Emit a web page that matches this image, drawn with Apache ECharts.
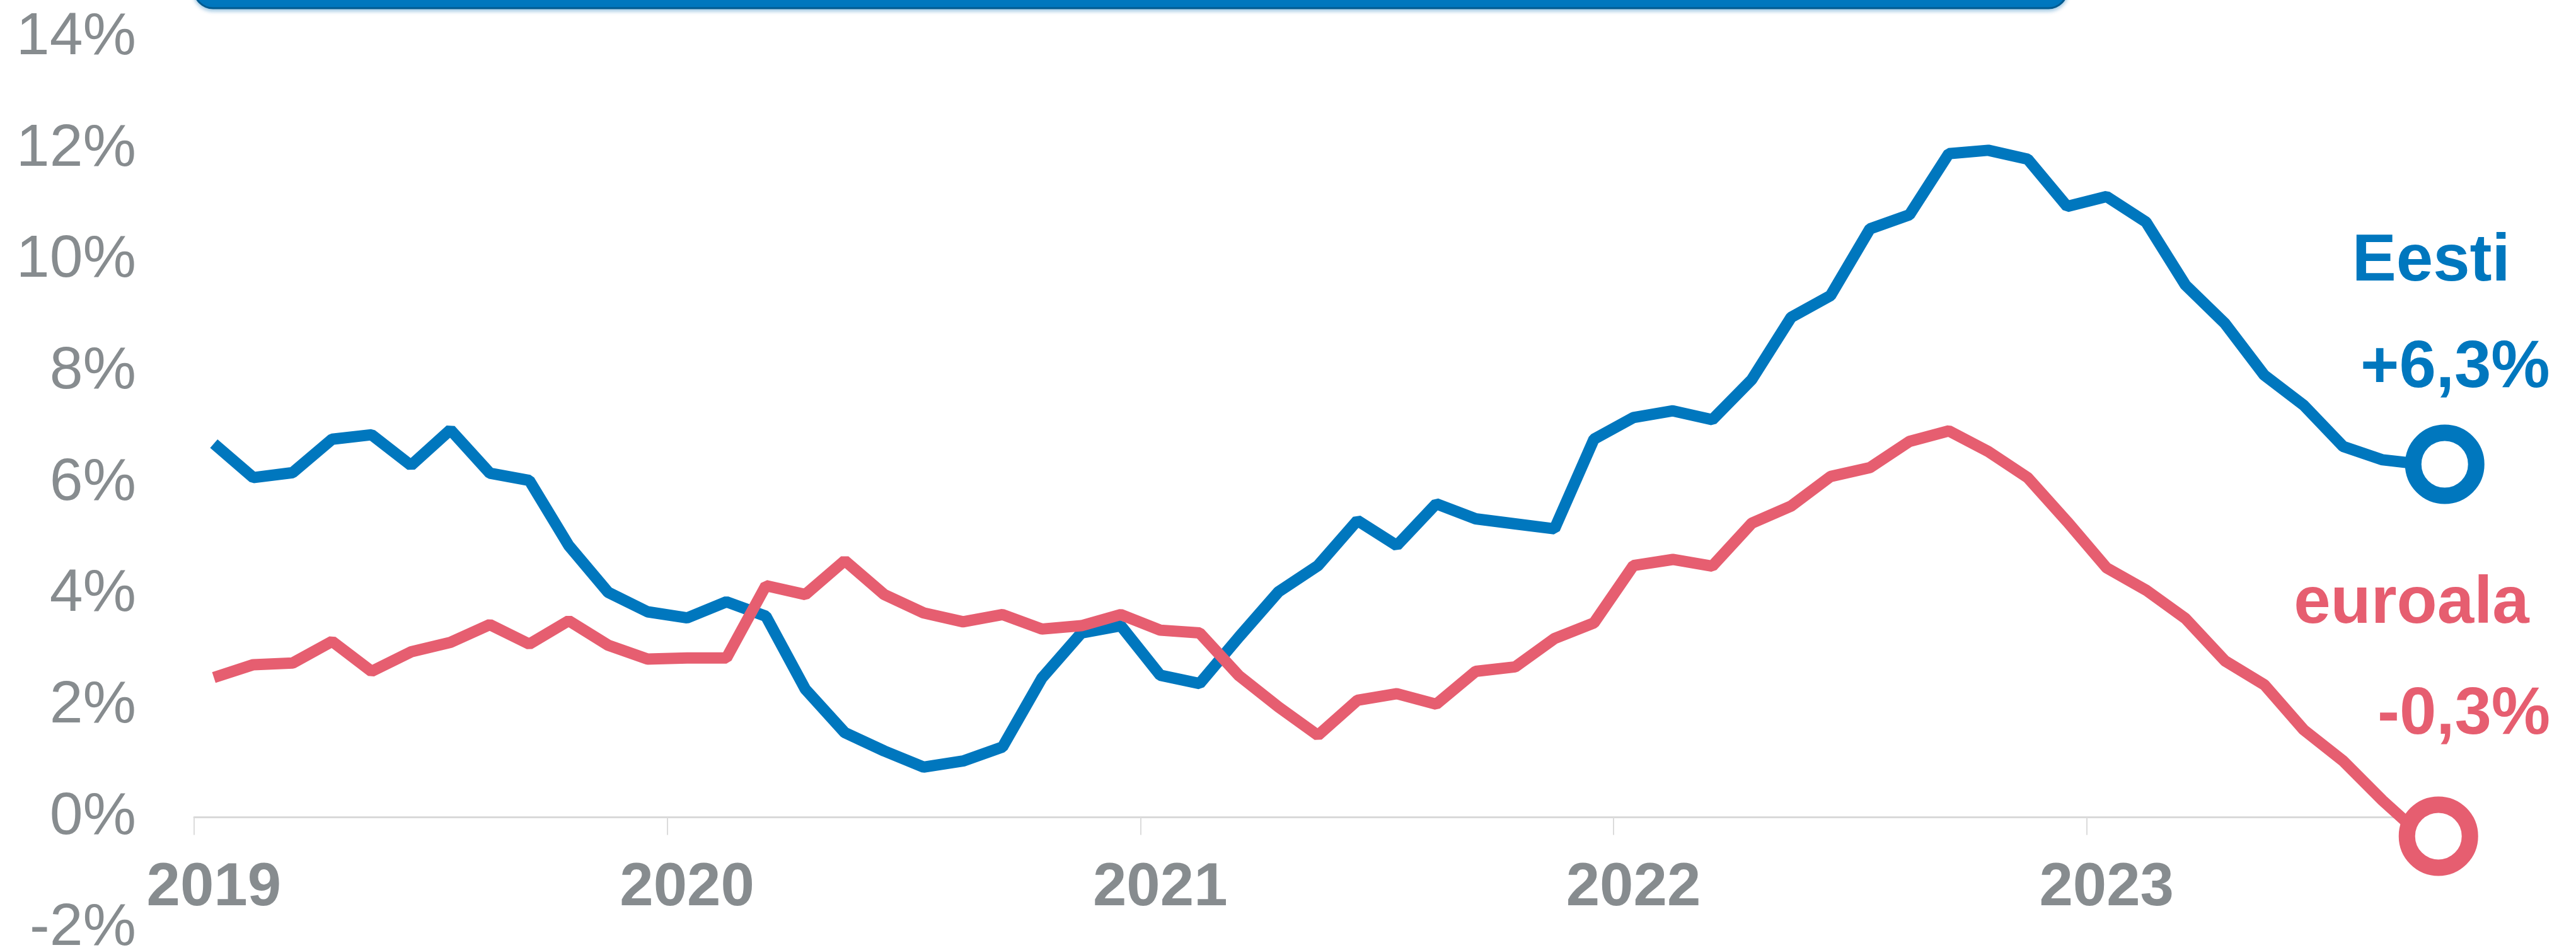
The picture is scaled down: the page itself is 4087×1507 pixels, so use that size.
<!DOCTYPE html>
<html>
<head>
<meta charset="utf-8">
<title>Eesti ja euroala</title>
<script src="https://cdn.jsdelivr.net/npm/echarts@6/dist/echarts.min.js"></script>
<style>
  html, body { margin: 0; padding: 0; background: #fff; }
  #chart { width: 4087px; height: 1507px; }
</style>
</head>
<body>
<div id="chart"></div>
<script>
// kuud 2019-01 ... 2023-09
var months = [
  "2019-01", "2019-02", "2019-03", "2019-04", "2019-05", "2019-06", "2019-07", "2019-08", "2019-09", "2019-10", "2019-11", "2019-12",
  "2020-01", "2020-02", "2020-03", "2020-04", "2020-05", "2020-06", "2020-07", "2020-08", "2020-09", "2020-10", "2020-11", "2020-12",
  "2021-01", "2021-02", "2021-03", "2021-04", "2021-05", "2021-06", "2021-07", "2021-08", "2021-09", "2021-10", "2021-11", "2021-12",
  "2022-01", "2022-02", "2022-03", "2022-04", "2022-05", "2022-06", "2022-07", "2022-08", "2022-09", "2022-10", "2022-11", "2022-12",
  "2023-01", "2023-02", "2023-03", "2023-04", "2023-05", "2023-06", "2023-07", "2023-08", "2023-09"
];

var eesti = [
  6.71, 6.10, 6.19, 6.79, 6.87, 6.32, 6.96, 6.18, 6.05, 4.88, 4.04, 3.69,
  3.58, 3.87, 3.61, 2.30, 1.52, 1.19, 0.90, 1.01, 1.26, 2.50, 3.31, 3.44,
  2.55, 2.40, 3.24, 4.05, 4.52, 5.33, 4.88, 5.63, 5.36, 5.27, 5.18, 6.79,
  7.18, 7.30, 7.14, 7.86, 8.98, 9.37, 10.57, 10.82, 11.92, 11.98, 11.82, 10.97,
  11.15, 10.69, 9.56, 8.87, 7.94, 7.40, 6.66, 6.42, 6.34
];

var euroala = [
  2.51, 2.74, 2.77, 3.16, 2.62, 2.97, 3.14, 3.46, 3.11, 3.53, 3.09, 2.84,
  2.86, 2.86, 4.16, 4.00, 4.61, 4.00, 3.67, 3.51, 3.64, 3.38, 3.44, 3.64,
  3.36, 3.31, 2.54, 1.98, 1.47, 2.10, 2.22, 2.03, 2.62, 2.70, 3.21, 3.49,
  4.52, 4.63, 4.51, 5.28, 5.59, 6.12, 6.28, 6.75, 6.94, 6.57, 6.10, 5.31,
  4.48, 4.08, 3.57, 2.81, 2.38, 1.57, 1.01, 0.30, -0.34
];

var endTexts = { eesti: "+6,3%", euroala: "-0,3%" };

var BLUE = "#0077be";
var RED = "#e65e70";
var GREY = "#878c8f";
var FONT = '"Liberation Sans", Arial, Helvetica, sans-serif';

// viimane punkt: rõngas + silt
function withEnd(values, color, name, valueText, opts) {
  var data = values.slice(0, values.length - 1);
  data.push({
    value: values[values.length - 1],
    symbol: "circle",
    symbolSize: 100,
    symbolOffset: opts.symbolOffset,
    itemStyle: { color: "#fff", borderColor: color, borderWidth: 26 },
    label: {
      show: true,
      position: "inside",
      offset: opts.labelOffset,
      width: opts.labelWidth,
      formatter: "{n|" + name + "}\n{v|" + valueText + "}",
      rich: {
        n: { color: color, fontSize: 105, fontWeight: "bold", fontFamily: FONT, lineHeight: opts.lineHeight, align: "left" },
        v: { color: color, fontSize: 105, fontWeight: "bold", fontFamily: FONT, lineHeight: opts.lineHeight, align: "right" }
      }
    }
  });
  return data;
}

var chart = echarts.init(document.getElementById("chart"));

var option = {
  animation: false,
  backgroundColor: "#ffffff",
  grid: { left: 308, right: 213, top: 60, bottom: 34, containLabel: false, outerBoundsMode: "none" },
  graphic: [
    {
      type: "rect",
      z: 10,
      shape: { x: 308, y: -70, width: 2972, height: 83, r: 30 },
      style: {
        fill: BLUE,
        stroke: "#005a8f",
        lineWidth: 3,
        shadowColor: "rgba(0, 110, 180, 0.35)",
        shadowBlur: 6,
        shadowOffsetY: 3
      }
    }
  ],
  xAxis: {
    type: "category",
    data: months,
    boundaryGap: true,
    axisLine: { show: true, onZero: true, lineStyle: { color: "#d9d9d9", width: 3 } },
    axisTick: {
      show: true,
      length: 28,
      interval: function (i) { return i % 12 === 0; },
      lineStyle: { color: "#dcdcdc", width: 2 }
    },
    axisLabel: {
      interval: function (i) { return i % 12 === 0; },
      formatter: function (v) { return v.slice(0, 4); },
      // sildid jäävad ruudustiku alaserva, seega nihe üles nulljoone alla
      margin: -111,
      color: GREY,
      fontSize: 96,
      fontWeight: "bold",
      fontFamily: FONT
    },
    splitLine: { show: false }
  },
  yAxis: {
    type: "value",
    min: -2,
    max: 14,
    interval: 2,
    axisLine: { show: false },
    axisTick: { show: false },
    splitLine: { show: false },
    axisLabel: {
      formatter: "{value}%",
      color: GREY,
      fontSize: 95,
      fontFamily: FONT,
      margin: 92
    }
  },
  series: [
    {
      name: "Eesti",
      type: "line",
      symbol: "none",
      showAllSymbol: true,
      clip: false,
      z: 3,
      lineStyle: { color: BLUE, width: 18 },
      itemStyle: { color: BLUE },
      emphasis: { disabled: true },
      data: withEnd(eesti, BLUE, "Eesti", endTexts.eesti, {
        symbolOffset: [36, 0], labelOffset: [10, -236], labelWidth: 314, lineHeight: 169
      })
    },
    {
      name: "euroala",
      type: "line",
      symbol: "none",
      showAllSymbol: true,
      clip: false,
      z: 3,
      lineStyle: { color: RED, width: 18 },
      itemStyle: { color: RED },
      emphasis: { disabled: true },
      data: withEnd(euroala, RED, "euroala", endTexts.euroala, {
        symbolOffset: [26, 0], labelOffset: [-26, -279], labelWidth: 407, lineHeight: 176
      })
    }
  ]
};

chart.setOption(option);
window.onresize = function () {
  chart.resize();
};
</script>
</body>
</html>
